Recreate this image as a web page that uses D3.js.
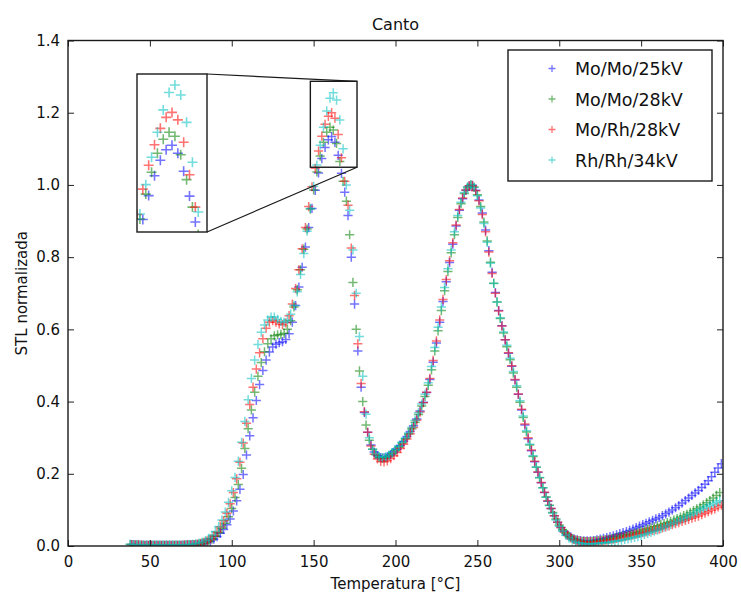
<!DOCTYPE html>
<html>
<head>
<meta charset="utf-8">
<script src="https://cdn.jsdelivr.net/npm/d3@7"></script>
<style>
  html, body { margin: 0; padding: 0; background: #fff; }
  svg text { font-family: "DejaVu Sans", "Bitstream Vera Sans", sans-serif; fill: #111; }
</style>
</head>
<body>
<svg id="chart" width="741" height="597"></svg>
<script>
// Axis ticks
const xTicks = [0, 50, 100, 150, 200, 250, 300, 350, 400];
const yTicks = [0.0, 0.2, 0.4, 0.6, 0.8, 1.0, 1.2, 1.4];

// Temperature readings (°C) of the two sampling grids
const tempsOdd = [39,41,43,45,47,49,51,53,55,57,59,61,63,65,67,69,71,
  73,75,77,79,81,83,85,87,89,91,93,95,97,99,
  101,103,105,107,109,111,113,115,117,119,121,123,125,127,129,
  131,133,135,137,139,141,143,145,147,149,151,153,155,157,159,
  161,163,165,167,169,171,173,175,177,179,181,183,185,187,189,
  191,193,195,197,199,201,203,205,207,209,211,213,215,217,219,
  221,223,225,227,229,231,233,235,237,239,241,243,245,247,249,
  251,253,255,257,259,261,263,265,267,269,271,273,275,277,279,
  281,283,285,287,289,291,293,295,297,299,301,303,305,307,309,
  311,313,315,317,319,321,323,325,327,329,331,333,335,337,339,
  341,343,345,347,349,351,353,355,357,359,361,363,365,367,369,
  371,373,375,377,379,381,383,385,387,389,391,393,395,397,399];
const tempsEven = [38,40,42,44,46,48,50,52,54,56,58,60,62,64,66,68,70,
  72,74,76,78,80,82,84,86,88,90,92,94,96,98,
  100,102,104,106,108,110,112,114,116,118,120,122,124,126,128,
  130,132,134,136,138,140,142,144,146,148,150,152,154,156,158,
  160,162,164,166,168,170,172,174,176,178,180,182,184,186,188,
  190,192,194,196,198,200,202,204,206,208,210,212,214,216,218,
  220,222,224,226,228,230,232,234,236,238,240,242,244,246,248,
  250,252,254,256,258,260,262,264,266,268,270,272,274,276,278,
  280,282,284,286,288,290,292,294,296,298,300,302,304,306,308,
  310,312,314,316,318,320,322,324,326,328,330,332,334,336,338,
  340,342,344,346,348,350,352,354,356,358,360,362,364,366,368,
  370,372,374,376,378,380,382,384,386,388,390,392,394,396,398];

// Normalized TL signal, Mo/Mo/25kV (odd grid)
const moMo25 = [0.004,0.003,0.003,0.002,0.002,0.002,0.002,0.002,0.002,0.002,0.002,0.002,0.002,0.002,0.002,0.002,0.002,
  0.003,0.003,0.003,0.004,0.005,0.007,0.010,0.013,0.019,0.026,0.035,0.046,0.059,0.075,
  0.097,0.125,0.157,0.198,0.252,0.305,0.355,0.403,0.447,0.486,0.515,0.537,0.551,0.559,0.563,
  0.566,0.572,0.588,0.620,0.666,0.717,0.772,0.828,0.882,0.935,0.985,1.033,1.073,1.104,1.125,
  1.134,1.118,1.082,1.032,0.980,0.915,0.800,0.670,0.540,0.440,0.370,0.315,0.280,0.260,0.250,
  0.245,0.244,0.247,0.253,0.260,0.268,0.278,0.290,0.303,0.317,0.333,0.352,0.374,0.398,0.425,
  0.461,0.509,0.562,0.620,0.677,0.732,0.785,0.836,0.886,0.930,0.962,0.985,0.997,0.999,0.985,
  0.958,0.922,0.875,0.818,0.758,0.702,0.652,0.610,0.571,0.534,0.498,0.460,0.420,0.377,0.335,
  0.297,0.264,0.233,0.204,0.175,0.148,0.124,0.104,0.084,0.066,0.051,0.040,0.031,0.025,0.020,
  0.017,0.015,0.014,0.014,0.014,0.015,0.017,0.019,0.021,0.023,0.026,0.028,0.031,0.034,0.037,
  0.040,0.043,0.047,0.051,0.055,0.059,0.063,0.067,0.071,0.075,0.079,0.084,0.089,0.094,0.100,
  0.106,0.112,0.119,0.126,0.133,0.140,0.147,0.154,0.162,0.171,0.181,0.192,0.204,0.216,0.228];

// Mo/Mo/28kV (even grid)
const moMo28 = [0.004,0.003,0.003,0.002,0.002,0.002,0.002,0.002,0.002,0.002,0.002,0.002,0.002,0.002,0.002,0.002,0.002,
  0.003,0.003,0.003,0.004,0.005,0.007,0.010,0.014,0.020,0.027,0.037,0.049,0.063,0.081,
  0.104,0.134,0.170,0.215,0.270,0.325,0.377,0.426,0.470,0.508,0.538,0.560,0.574,0.582,0.585,
  0.586,0.589,0.600,0.624,0.662,0.710,0.765,0.822,0.878,0.933,0.986,1.036,1.080,1.118,1.146,
  1.160,1.152,1.115,1.065,1.010,0.955,0.862,0.730,0.600,0.485,0.400,0.335,0.293,0.268,0.253,
  0.246,0.243,0.245,0.250,0.257,0.265,0.274,0.285,0.297,0.310,0.325,0.343,0.364,0.388,0.414,
  0.445,0.488,0.540,0.596,0.652,0.707,0.760,0.812,0.862,0.910,0.948,0.976,0.993,1.000,0.994,
  0.973,0.940,0.897,0.845,0.786,0.728,0.676,0.630,0.590,0.552,0.516,0.479,0.440,0.398,0.356,
  0.316,0.280,0.248,0.218,0.189,0.161,0.136,0.113,0.093,0.075,0.058,0.045,0.035,0.027,0.021,
  0.017,0.015,0.013,0.012,0.012,0.013,0.014,0.015,0.016,0.018,0.019,0.021,0.023,0.025,0.027,
  0.029,0.031,0.033,0.036,0.038,0.041,0.044,0.047,0.050,0.053,0.056,0.059,0.062,0.065,0.068,
  0.072,0.076,0.080,0.084,0.088,0.093,0.098,0.103,0.108,0.114,0.120,0.126,0.133,0.140,0.148];

// Mo/Rh/28kV (odd grid)
const moRh28 = [0.004,0.003,0.003,0.003,0.002,0.002,0.002,0.002,0.002,0.002,0.002,0.002,0.002,0.002,0.002,0.002,0.003,
  0.003,0.003,0.004,0.005,0.007,0.010,0.014,0.020,0.028,0.039,0.053,0.070,0.091,0.117,
  0.148,0.186,0.232,0.285,0.340,0.392,0.440,0.490,0.535,0.574,0.603,0.620,0.624,0.620,0.615,
  0.613,0.618,0.638,0.670,0.713,0.765,0.823,0.882,0.940,0.995,1.046,1.094,1.135,1.168,1.190,
  1.200,1.185,1.140,1.075,1.010,0.944,0.825,0.694,0.560,0.450,0.372,0.315,0.277,0.254,0.241,
  0.234,0.233,0.236,0.242,0.250,0.259,0.270,0.282,0.296,0.311,0.328,0.348,0.371,0.397,0.426,
  0.464,0.514,0.568,0.626,0.683,0.738,0.790,0.840,0.889,0.932,0.964,0.986,0.998,0.998,0.984,
  0.956,0.918,0.870,0.814,0.755,0.700,0.651,0.609,0.571,0.535,0.499,0.461,0.421,0.379,0.338,
  0.300,0.266,0.235,0.205,0.176,0.149,0.125,0.104,0.084,0.066,0.051,0.039,0.030,0.023,0.018,
  0.015,0.013,0.012,0.012,0.012,0.012,0.013,0.014,0.015,0.016,0.018,0.019,0.021,0.023,0.025,
  0.027,0.029,0.031,0.033,0.035,0.037,0.039,0.041,0.043,0.045,0.047,0.050,0.053,0.056,0.059,
  0.062,0.065,0.068,0.071,0.074,0.077,0.080,0.083,0.087,0.091,0.095,0.099,0.103,0.108,0.113];

// Rh/Rh/34kV (even grid)
const rhRh34 = [0.005,0.004,0.003,0.003,0.003,0.003,0.003,0.003,0.003,0.003,0.003,0.003,0.003,0.003,0.003,0.003,0.003,
  0.003,0.004,0.005,0.006,0.008,0.011,0.015,0.021,0.029,0.040,0.054,0.072,0.094,0.121,
  0.153,0.190,0.235,0.287,0.345,0.405,0.464,0.515,0.558,0.592,0.612,0.626,0.634,0.634,0.628,
  0.622,0.620,0.626,0.642,0.667,0.704,0.752,0.810,0.872,0.935,0.996,1.055,1.110,1.160,1.205,
  1.240,1.255,1.235,1.180,1.100,1.000,0.930,0.820,0.700,0.580,0.470,0.365,0.300,0.268,0.254,
  0.247,0.245,0.247,0.252,0.259,0.267,0.276,0.287,0.299,0.313,0.329,0.348,0.369,0.393,0.420,
  0.452,0.497,0.550,0.606,0.662,0.716,0.768,0.820,0.870,0.915,0.952,0.979,0.995,1.000,0.993,
  0.970,0.936,0.893,0.841,0.783,0.727,0.676,0.632,0.593,0.556,0.520,0.483,0.444,0.402,0.360,
  0.319,0.282,0.250,0.219,0.190,0.161,0.135,0.112,0.091,0.072,0.055,0.041,0.030,0.022,0.016,
  0.012,0.009,0.007,0.006,0.006,0.006,0.007,0.007,0.008,0.009,0.010,0.011,0.013,0.014,0.016,
  0.018,0.020,0.022,0.024,0.026,0.029,0.032,0.035,0.038,0.041,0.044,0.048,0.052,0.056,0.060,
  0.064,0.068,0.072,0.076,0.080,0.085,0.089,0.094,0.099,0.104,0.109,0.113,0.117,0.121,0.125];

const seriesNames = ["Mo/Mo/25kV", "Mo/Mo/28kV", "Mo/Rh/28kV", "Rh/Rh/34kV"];
const seriesColors = ["#0000ff", "#008000", "#ff0000", "#00bfbf"];
const seriesTemps = [tempsOdd, tempsEven, tempsOdd, tempsEven];
const seriesValues = [moMo25, moMo28, moRh28, rhRh34];

// Zoom window around the 160 °C peak and the inset ranges
const zoomX = [148, 176.5];
const zoomY = [1.049, 1.287];
const insetX = [149, 173];
const insetY = [0.96, 1.277];

const series = seriesNames.map((name, i) => ({
  name, color: seriesColors[i],
  points: seriesTemps[i].map((t, j) => ({ t, v: seriesValues[i][j] }))
}));

const svg = d3.select("#chart");
const plot = { left: 68, right: 723, top: 40.5, bottom: 546 };

const x = d3.scaleLinear().domain([0, 400]).range([plot.left, plot.right]);
const y = d3.scaleLinear().domain([0, 1.4]).range([plot.bottom, plot.top]);

const defs = svg.append("defs");
defs.append("clipPath").attr("id", "plotClip")
  .append("rect")
  .attr("x", plot.left).attr("y", plot.top)
  .attr("width", plot.right - plot.left).attr("height", plot.bottom - plot.top);

const plusPath = s => `M${-s},0H${s}M0,${-s}V${s}`;

function drawMarkers(g, xs, ys, size, width) {
  series.forEach(s => {
    g.append("g")
      .attr("stroke", s.color)
      .attr("stroke-opacity", 0.55)
      .attr("stroke-width", width)
      .attr("fill", "none")
      .selectAll("path")
      .data(s.points)
      .join("path")
      .attr("transform", d => `translate(${xs(d.t)},${ys(d.v)})`)
      .attr("d", plusPath(size));
  });
}

// Data markers
const dataG = svg.append("g").attr("clip-path", "url(#plotClip)");
drawMarkers(dataG, x, y, 4.6, 1.5);

// Axes with inward ticks on all four sides
const tickLen = 6;
const axB = svg.append("g").attr("transform", `translate(0,${plot.bottom})`)
  .call(d3.axisBottom(x).tickValues(xTicks).tickSize(-tickLen).tickPadding(10).tickFormat(d3.format("d")));
const axT = svg.append("g").attr("transform", `translate(0,${plot.top})`)
  .call(d3.axisTop(x).tickValues(xTicks).tickSize(-tickLen).tickFormat(""));
const axL = svg.append("g").attr("transform", `translate(${plot.left},0)`)
  .call(d3.axisLeft(y).tickValues(yTicks).tickSize(-tickLen).tickPadding(8).tickFormat(d3.format(".1f")));
const axR = svg.append("g").attr("transform", `translate(${plot.right},0)`)
  .call(d3.axisRight(y).tickValues(yTicks).tickSize(-tickLen).tickFormat(""));

[axB, axT, axL, axR].forEach(a => {
  a.select(".domain").remove();
  a.selectAll(".tick line").attr("stroke", "#222").attr("stroke-width", 1);
  a.selectAll(".tick text").attr("font-size", 15).attr("fill", "#111")
    .attr("font-family", "DejaVu Sans, sans-serif");
});

svg.append("rect")
  .attr("x", plot.left).attr("y", plot.top)
  .attr("width", plot.right - plot.left).attr("height", plot.bottom - plot.top)
  .attr("fill", "none").attr("stroke", "#1a1a1a").attr("stroke-width", 1.4);

// Titles
const cx = (plot.left + plot.right) / 2;
svg.append("text").attr("x", cx).attr("y", 30).attr("text-anchor", "middle")
  .attr("font-size", 16).text("Canto");
svg.append("text").attr("x", cx).attr("y", 589).attr("text-anchor", "middle")
  .attr("font-size", 15).text("Temperatura [°C]");
svg.append("text")
  .attr("transform", `translate(27,${(plot.top + plot.bottom) / 2}) rotate(-90)`)
  .attr("text-anchor", "middle").attr("font-size", 15).text("STL normalizada");

// Zoom window in the main axes
const zx0 = x(zoomX[0]), zx1 = x(zoomX[1]), zy0 = y(zoomY[1]), zy1 = y(zoomY[0]);
svg.append("rect")
  .attr("x", zx0).attr("y", zy0).attr("width", zx1 - zx0).attr("height", zy1 - zy0)
  .attr("fill", "none").attr("stroke", "#1a1a1a").attr("stroke-width", 1.4);

// Inset axes
const inset = { left: 137, right: 207, top: 74, bottom: 232 };
const xi = d3.scaleLinear().domain(insetX).range([inset.left, inset.right]);
const yi = d3.scaleLinear().domain(insetY).range([inset.bottom, inset.top]);

svg.append("line").attr("x1", inset.right).attr("y1", inset.top).attr("x2", zx1).attr("y2", zy0)
  .attr("stroke", "#1a1a1a").attr("stroke-width", 1.2);
svg.append("line").attr("x1", inset.right).attr("y1", inset.bottom).attr("x2", zx1).attr("y2", zy1)
  .attr("stroke", "#1a1a1a").attr("stroke-width", 1.2);

defs.append("clipPath").attr("id", "insetClip")
  .append("rect")
  .attr("x", inset.left).attr("y", inset.top)
  .attr("width", inset.right - inset.left).attr("height", inset.bottom - inset.top);

svg.append("rect")
  .attr("x", inset.left).attr("y", inset.top)
  .attr("width", inset.right - inset.left).attr("height", inset.bottom - inset.top)
  .attr("fill", "#fff");
const insetG = svg.append("g").attr("clip-path", "url(#insetClip)");
drawMarkers(insetG, xi, yi, 5, 1.6);
svg.append("rect")
  .attr("x", inset.left).attr("y", inset.top)
  .attr("width", inset.right - inset.left).attr("height", inset.bottom - inset.top)
  .attr("fill", "none").attr("stroke", "#1a1a1a").attr("stroke-width", 1.4);

// Legend
const legend = svg.append("g");
legend.append("rect").attr("x", 508).attr("y", 50).attr("width", 204).attr("height", 131)
  .attr("fill", "#fff").attr("stroke", "#1a1a1a").attr("stroke-width", 1.4);
series.forEach((s, i) => {
  const ly = 68.5 + i * 30.5;
  legend.append("path")
    .attr("transform", `translate(552,${ly})`)
    .attr("d", plusPath(3.5))
    .attr("stroke", s.color).attr("stroke-opacity", 0.55).attr("stroke-width", 1.3);
  legend.append("text").attr("x", 575).attr("y", ly + 6.5)
    .attr("font-size", 17.5).text(s.name);
});
</script>
</body>
</html>
